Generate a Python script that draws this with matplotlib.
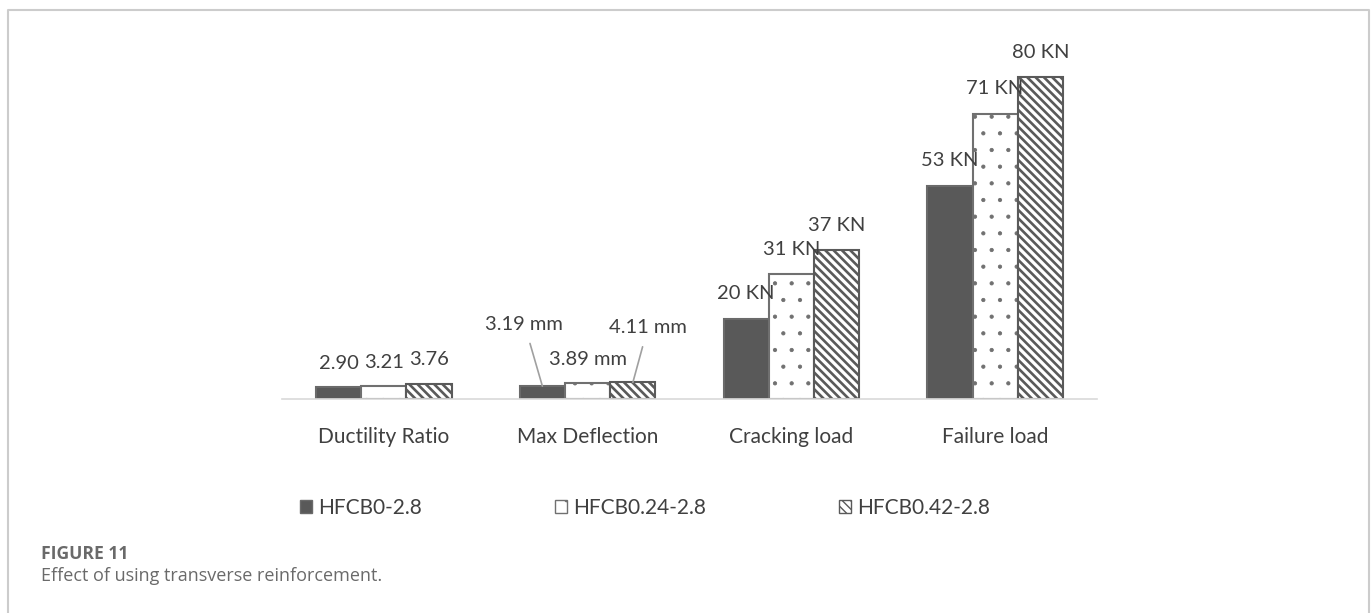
import matplotlib.pyplot as plt
from matplotlib.lines import Line2D
from matplotlib.patches import Patch
import numpy as np

# donnees
categories = ["Ductility Ratio", "Max Deflection", "Cracking load", "Failure load"]
series = ["HFCB0-2.8", "HFCB0.24-2.8", "HFCB0.42-2.8"]
hfcb0 = [2.90, 3.19, 20, 53]
hfcb024 = [3.21, 3.89, 31, 71]
hfcb042 = [3.76, 4.11, 37, 80]
units = ["", " mm", " KN", " KN"]
decimals = [2, 2, 0, 0]

W, H = 1372, 613
fig = plt.figure(figsize=(W / 100, H / 100), dpi=100)
fig.patch.set_facecolor("white")

# cadre autour de la figure
fig.add_artist(Line2D([8 / W, 8 / W, 1369 / W, 1369 / W], [0, 1 - 10 / H, 1 - 10 / H, 0],
                      transform=fig.transFigure, color="#cccccc", lw=1.5))

ax = fig.add_axes([282 / W, (H - 399) / H, 815 / W, 359 / H])
ax.set_ylim(0, 89.3)
ax.set_xlim(-0.5, 3.5)

x = np.arange(len(categories))
w = 0.222
styles = [
    dict(color="#595959", edgecolor="#6a6a6a", hatch=None, hlw=1.0),
    dict(color="white", edgecolor="#707070", hatch=".", hlw=0.6),
    dict(color="white", edgecolor="#5a5a5a", hatch="\\\\\\\\", hlw=1.9),
]
all_vals = [hfcb0, hfcb024, hfcb042]
handles = []
for i, vals in enumerate(all_vals):
    st = styles[i]
    with plt.rc_context({"hatch.linewidth": st["hlw"]}):
        ax.bar(x + (i - 1) * w, vals, w, color=st["color"], edgecolor=st["edgecolor"],
               hatch=st["hatch"], linewidth=1.5, zorder=2)
        handles.append(Patch(facecolor=st["color"], edgecolor=st["edgecolor"],
                             hatch=st["hatch"], linewidth=1, label=series[i]))

txt = "#404040"
# etiquettes des valeurs (decalage en pixels)
offsets = {
    (0, 0): (0, 24), (0, 1): (0, 24), (0, 2): (0, 24),
    (1, 0): (-18, 62), (1, 1): (0, 24), (1, 2): (15, 55),
}
for i, vals in enumerate(all_vals):
    for j, v in enumerate(vals):
        lab = f"{v:.{decimals[j]}f}{units[j]}"
        dx, dy = offsets.get((j, i), (0, 25))
        xp = x[j] + (i - 1) * w
        arrow = None
        if j == 1 and i != 1:
            arrow = dict(arrowstyle="-", color="#a0a0a0", lw=1.2, shrinkA=6, shrinkB=0)
        ax.annotate(lab, xy=(xp, v), xytext=(dx * 0.72, dy * 0.72), textcoords="offset points",
                    ha="center", va="center", fontsize=14.5, color=txt, family="Lato",
                    arrowprops=arrow)

for s in ["top", "left", "right"]:
    ax.spines[s].set_visible(False)
ax.spines["bottom"].set_color("#d9d9d9")
ax.spines["bottom"].set_linewidth(1.2)
ax.set_yticks([])
ax.set_xticks(x)
ax.set_xticklabels(categories, fontsize=15, color=txt, family="Lato")
ax.tick_params(axis="x", length=0, pad=20)

fig.legend(handles=handles, loc="center", bbox_to_anchor=(645 / W, 1 - 508 / H), ncol=3,
           frameon=False, prop=dict(family="Lato", size=15), labelcolor=txt,
           handlelength=0.55, handleheight=0.55, handletextpad=0.3, columnspacing=6.4)

fig.text(41 / W, 1 - 554 / H, "FIGURE 11", fontsize=12.6, fontweight="bold",
         color="#6a6a6a", family="Open Sans", va="center")
fig.text(41 / W, 1 - 576 / H, "Effect of using transverse reinforcement.", fontsize=13,
         color="#6a6a6a", family="Open Sans", va="center")

plt.savefig("out.png", dpi=100, facecolor="white")
